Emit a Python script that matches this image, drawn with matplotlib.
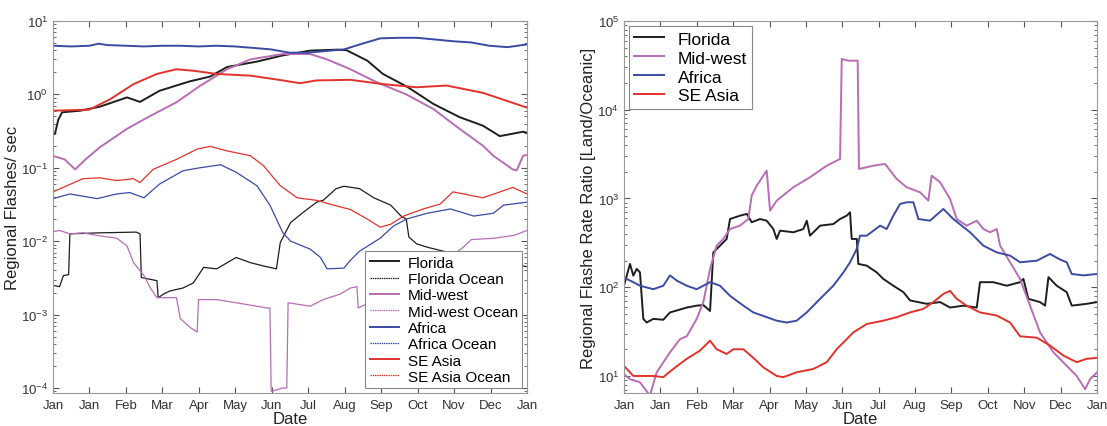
import numpy as np
import matplotlib
matplotlib.use("Agg")
import matplotlib.pyplot as plt
from matplotlib.lines import Line2D

plt.rcParams['font.family'] = ['Liberation Sans', 'DejaVu Sans']

month_labels = ['Jan', 'Jan', 'Feb', 'Mar', 'Apr', 'May', 'Jun', 'Jul',
                'Aug', 'Sep', 'Oct', 'Nov', 'Dec', 'Jan']

# --- left panel: regional flash rates (flashes/sec), x = day of year ---
fl_days = [0, 1.5, 4, 7, 21, 36, 57, 67, 82, 105, 121, 134, 157, 177, 198, 219, 226,
           242, 254, 273, 293, 313, 331, 344, 362, 365]
fl_rate = [0.29, 0.29, 0.45, 0.57, 0.6, 0.68, 0.91, 0.79, 1.12, 1.5, 1.75, 2.36, 2.8,
           3.4, 3.95, 4.07, 4.0, 2.88, 1.9, 1.26, 0.74, 0.49, 0.375, 0.27, 0.31, 0.3]

flo_days = [0, 5, 8, 12, 13, 36, 64, 67, 68, 80, 81, 85, 90, 100, 108, 116, 126, 141,
            152, 162, 172, 175, 183, 193, 203, 208, 218, 224, 236, 247, 260, 268, 272,
            274, 280, 288, 320, 365]
flo_rate = [0.0025, 0.0024, 0.0034, 0.0035, 0.0126, 0.013, 0.0133, 0.0126, 0.0032,
            0.0029, 0.0017, 0.0019, 0.0021, 0.0023, 0.0027, 0.0044, 0.0042, 0.006,
            0.0051, 0.0046, 0.0042, 0.0096, 0.018, 0.025, 0.034, 0.036, 0.052, 0.056,
            0.052, 0.039, 0.031, 0.022, 0.020, 0.0114, 0.0092, 0.0083, 0.006, 0.0045]

mw_days = [0, 9, 17, 25, 36, 57, 75, 95, 113, 134, 152, 177, 198, 211, 229, 249, 272,
           293, 313, 331, 339, 354, 357, 362, 365]
mw_rate = [0.145, 0.13, 0.095, 0.13, 0.19, 0.34, 0.51, 0.78, 1.3, 2.2, 3.0, 3.55, 3.55,
           3.0, 2.2, 1.47, 1.0, 0.63, 0.34, 0.2, 0.146, 0.095, 0.092, 0.146, 0.15]

mwo_days = [0, 5, 13, 23, 36, 49, 57, 62, 70, 75, 80, 95, 98, 106, 111, 112, 126, 141,
            165, 167, 168, 177, 180, 181, 198, 208, 221, 229, 234, 235, 260, 290, 315,
            322, 340, 355, 365]
mwo_rate = [0.0135, 0.014, 0.0126, 0.013, 0.0118, 0.011, 0.0086, 0.0051, 0.0034,
            0.0023, 0.0017, 0.0017, 0.00088, 0.00066, 0.00058, 0.0016, 0.0016, 0.00145,
            0.00123, 0.00123, 0.00009, 0.0001, 0.0001, 0.00145, 0.0013, 0.0016, 0.0019,
            0.0023, 0.0024, 0.00123, 0.002, 0.004, 0.008, 0.0105, 0.011, 0.012, 0.014]

af_days = [0, 14, 28, 35, 42, 56, 70, 84, 98, 112, 126, 140, 154, 168, 182, 196, 210,
           224, 238, 252, 266, 280, 294, 308, 322, 336, 350, 365]
af_rate = [4.6, 4.5, 4.6, 4.9, 4.7, 4.6, 4.5, 4.6, 4.6, 4.5, 4.6, 4.5, 4.3, 4.1, 3.7,
           3.7, 3.9, 4.1, 4.9, 5.8, 5.9, 5.9, 5.6, 5.3, 5.1, 4.6, 4.4, 4.8]

afo_days = [0, 13, 34, 49, 59, 70, 82, 100, 113, 129, 141, 157, 167, 177, 183, 198, 206,
            211, 224, 229, 236, 252, 262, 272, 288, 306, 324, 339, 347, 365]
afo_rate = [0.038, 0.044, 0.038, 0.044, 0.046, 0.039, 0.060, 0.091, 0.10, 0.11, 0.087,
            0.057, 0.031, 0.013, 0.010, 0.0078, 0.0060, 0.0042, 0.0043, 0.0055, 0.0073,
            0.011, 0.016, 0.020, 0.024, 0.0275, 0.022, 0.024, 0.031, 0.034]

as_days = [0, 28, 44, 62, 80, 95, 108, 126, 152, 177, 190, 203, 229, 254, 280, 303, 331, 365]
as_rate = [0.6, 0.62, 0.86, 1.38, 1.9, 2.2, 2.1, 1.9, 1.8, 1.55, 1.42, 1.55, 1.58, 1.38,
           1.25, 1.32, 1.05, 0.66]

aso_days = [0, 23, 36, 49, 62, 67, 77, 95, 111, 121, 134, 152, 162, 175, 188, 203, 216,
            229, 242, 252, 260, 270, 285, 298, 308, 331, 354, 365]
aso_rate = [0.047, 0.071, 0.073, 0.067, 0.071, 0.063, 0.095, 0.13, 0.18, 0.196, 0.17,
            0.146, 0.107, 0.057, 0.039, 0.036, 0.031, 0.027, 0.020, 0.0155, 0.017,
            0.022, 0.0275, 0.032, 0.047, 0.039, 0.054, 0.044]

# --- right panel: land / ocean ratio ---
flr_days = [0, 4.6, 7.2, 9.8, 12.3, 14.9, 17.5, 22.6, 30.3, 35.5, 48.4, 56.1, 61.2, 66.4,
            68.9, 74.1, 79.2, 81.8, 89.5, 94.7, 98.5, 105, 110.1, 115.2, 117.8, 120.4,
            130.7, 138.4, 141, 143.5, 151.3, 161.5, 166.7, 171.8, 174.4, 175.7, 179.6,
            180.8, 187.3, 195, 200.1, 207.8, 215.6, 220.7, 233.6, 243.9, 251.6, 261.9,
            272.2, 274.7, 285, 295.3, 305.6, 308.2, 312, 321, 324.9, 327.5, 333.9, 341.6,
            345.5, 357, 365]
flr_ratio = [104, 183, 135, 161, 147, 44, 40, 44, 43, 52, 59, 62, 63, 54, 247, 294, 350,
             587, 640, 670, 540, 587, 562, 453, 350, 434, 416, 453, 562, 381, 494, 515,
             587, 640, 698, 350, 350, 183, 175, 147, 124, 104, 88, 71, 65, 68, 59, 62,
             59, 114, 114, 104, 114, 124, 74, 68, 62, 130, 104, 88, 62, 65, 68]

mwr_days = [0, 4.6, 12.3, 20, 25.2, 35.5, 43.2, 48.4, 56.1, 61.2, 66.4, 71.5, 76.6, 81.8,
            89.5, 95.9, 98.5, 102.4, 110.1, 112.7, 117.8, 130.7, 143.5, 156.4, 166.7, 168,
            173.1, 180.3, 181.3, 192.4, 201.4, 210.4, 218.1, 228.4, 234.8, 237.4, 243.9,
            251.6, 256.7, 264.4, 272.2, 277.3, 282.4, 287.6, 290.2, 297.9, 305.6, 313.3,
            321, 331.3, 341.6, 349.3, 355.8, 359.6, 365]
mwr_ratio = [10.5, 9.2, 8.5, 6.0, 11, 18.5, 26, 28, 44, 68, 161, 294, 350, 453, 494, 587,
             1076, 1395, 2060, 729, 946, 1337, 1734, 2340, 2790, 37300, 35700, 35700,
             2150, 2340, 2450, 1660, 1337, 1175, 946, 1807, 1523, 986, 587, 494, 562,
             453, 416, 453, 294, 191, 124, 62, 31, 18.5, 13, 10, 7.1, 9.2, 11]

afr_days = [0, 7.2, 12.3, 22.6, 30.3, 35.5, 40.6, 48.4, 56.1, 66.4, 74.1, 81.8, 92.1,
            99.8, 110.1, 117.8, 125.5, 133.2, 141, 151.3, 161.5, 169.3, 174.4, 179.6,
            182.1, 187.3, 197.6, 202.7, 207.8, 213, 218.1, 223.3, 227.1, 236.1, 246.4,
            254.1, 267, 277.3, 287.6, 297.9, 305.6, 318.5, 328.7, 336.5, 341.6, 345.5,
            354.5, 365]
afr_ratio = [128, 114, 104, 95, 104, 136, 119, 104, 95, 114, 104, 80, 62, 52, 46, 42, 40,
             42, 52, 74, 104, 147, 191, 270, 381, 381, 494, 453, 640, 867, 906, 906, 587,
             562, 762, 587, 416, 294, 247, 227, 191, 199, 237, 205, 191, 141, 136, 141]

asr_days = [0, 7.2, 22.6, 30.3, 38, 48.4, 58.6, 66.4, 71.5, 79.2, 84.4, 92.1, 99.8, 107.5,
            117.8, 122.9, 133.2, 146.1, 156.4, 164.1, 171.8, 177, 187.3, 200.1, 210.4,
            220.7, 231, 238.7, 246.4, 251.6, 256.7, 264.4, 274.7, 287.6, 297.9, 305.6,
            318.5, 328.7, 339, 349.3, 357, 365]
asr_ratio = [13, 10, 10, 9.7, 12, 15.6, 19.3, 25, 20, 17.7, 20, 20, 16, 12.5, 10, 9.7, 11,
             12, 14.3, 20, 26, 31, 38.5, 42, 46, 52, 57, 68, 84, 91, 74, 62, 52, 48, 40,
             28, 27, 22, 17, 14.3, 15.6, 16]

BLACK = '#1e1e1e'
PINK = '#b86db6'
BLUE = '#3b4aa2'
RED = '#e2322c'


def style_axes(ax):
    ax.set_yscale('log')
    ax.set_xlim(0, 365)
    ax.set_xticks(np.linspace(0, 365, 14))
    ax.set_xticklabels(month_labels)
    ax.tick_params(which='both', direction='in', top=True, right=True,
                   labelsize=9.5, colors='#555555', labelcolor='#333333')
    ax.tick_params(which='major', length=4)
    ax.tick_params(which='minor', length=2)
    ax.tick_params(axis='x', pad=4)
    for s in ax.spines.values():
        s.set_color('#999999')
    ax.set_xlabel('Date', fontsize=12, labelpad=0, color='#222222')


def plot_panels():
    fig = plt.figure(figsize=(11.07, 4.27), dpi=100)
    ax1 = fig.add_axes([0.0479, 0.0773, 0.4282, 0.8712])
    ax2 = fig.add_axes([0.5637, 0.0773, 0.4273, 0.8712])

    # land lines thicker, ocean lines thin (dotted only in the legend)
    series = [(fl_days, fl_rate, BLACK, 'Florida', False),
              (flo_days, flo_rate, BLACK, 'Florida Ocean', True),
              (mw_days, mw_rate, PINK, 'Mid-west', False),
              (mwo_days, mwo_rate, PINK, 'Mid-west Ocean', True),
              (af_days, af_rate, BLUE, 'Africa', False),
              (afo_days, afo_rate, BLUE, 'Africa Ocean', True),
              (as_days, as_rate, RED, 'SE Asia', False),
              (aso_days, aso_rate, RED, 'SE Asia Ocean', True)]
    handles = []
    for d, v, c, name, is_ocean in series:
        lw = 0.9 if is_ocean else 1.4
        ax1.plot(d, v, color=c, lw=lw)
        handles.append(Line2D([], [], color=c, lw=lw,
                              ls=(0, (1.2, 0.6)) if is_ocean else '-', label=name))
    style_axes(ax1)
    ax1.set_ylim(8.55e-5, 10)
    ax1.set_ylabel('Regional Flashes/ sec', fontsize=12, labelpad=1, color='#222222')
    leg1 = ax1.legend(handles=handles, loc='lower right', fontsize=11, fancybox=False,
                      framealpha=1, edgecolor='#888888', labelspacing=0.15,
                      handlelength=1.9, borderaxespad=0.3, borderpad=0.3,
                      handletextpad=0.6)
    leg1.get_frame().set_linewidth(0.8)

    ax2.plot(flr_days, flr_ratio, color=BLACK, lw=1.4, label='Florida')
    ax2.plot(mwr_days, mwr_ratio, color=PINK, lw=1.4, label='Mid-west')
    ax2.plot(afr_days, afr_ratio, color=BLUE, lw=1.4, label='Africa')
    ax2.plot(asr_days, asr_ratio, color=RED, lw=1.4, label='SE Asia')
    style_axes(ax2)
    ax2.set_ylim(6.43, 1e5)
    ax2.set_ylabel('Regional Flashe Rate Ratio [Land/Oceanic]', fontsize=12,
                   labelpad=1, color='#222222')
    leg2 = ax2.legend(loc='upper left', fontsize=12.5, fancybox=False, framealpha=1,
                      edgecolor='#888888', labelspacing=0.22, handlelength=1.7,
                      borderaxespad=0.3, borderpad=0.3, handletextpad=0.8)
    leg2.get_frame().set_linewidth(0.8)

    fig.savefig('out.png', dpi=100)


if __name__ == "__main__":
    plot_panels()
